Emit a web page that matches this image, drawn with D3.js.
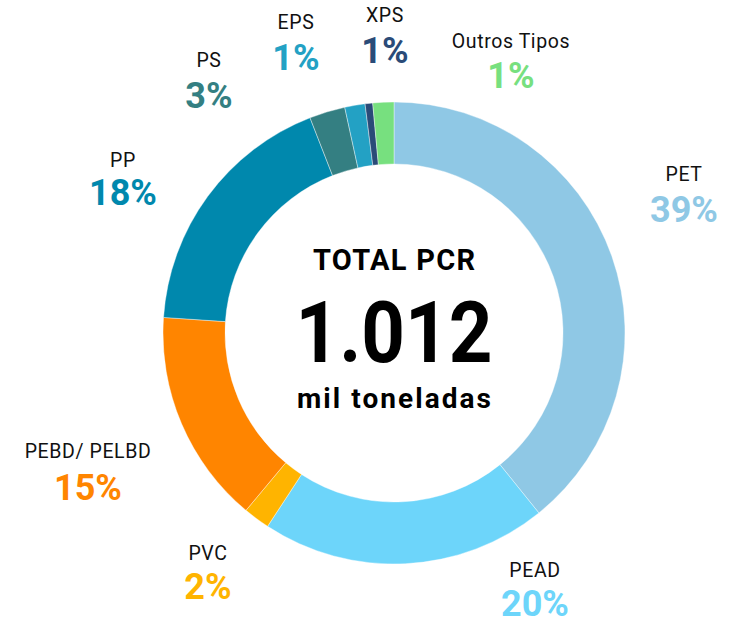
<!DOCTYPE html>
<html>
<head>
<meta charset="utf-8">
<script src="https://cdn.jsdelivr.net/npm/d3@7"></script>
<style>
  body { margin: 0; background: #fff; }
  svg text { font-family: Roboto, "DejaVu Sans", sans-serif; }
  .name { font-size: 19.5px; fill: #111; letter-spacing: 0.6px; }
  .pct { font-size: 36px; font-weight: 700; }
</style>
</head>
<body>
<div id="chart"></div>
<script>
// Data (share of PCR by resin type, %, clockwise from 12 o'clock)
const categories = ['PET', 'PEAD', 'PVC', 'PEBD/ PELBD', 'PP', 'PS', 'EPS', 'XPS', 'Outros Tipos'];
const shares = [39.2, 20.0, 1.85, 15.0, 18.0, 2.5, 1.42, 0.53, 1.47];
const colors = ['#8fc8e5', '#6dd5fa', '#ffb400', '#ff8500', '#0088ad', '#347f82', '#23a1c4', '#2a4b78', '#77e07f'];
const totalLabel = 'TOTAL PCR';
const totalValue = '1.012';
const totalUnit = 'mil toneladas';

// label anchor points (x, name baseline, percent baseline)
const labelPos = {
  'PET': [684, 181, 222],
  'PEAD': [535, 577, 616],
  'PVC': [208, 560, 599],
  'PEBD/ PELBD': [88, 458, 500],
  'PP': [123, 167, 205],
  'PS': [209, 67, 108],
  'EPS': [296, 29, 70],
  'XPS': [385, 22, 63],
  'Outros Tipos': [511, 48, 88]
};

const width = 738, height = 625;
const cx = 394, cy = 333;
const outerR = 231, innerR = 169;

const svg = d3.select('#chart').append('svg')
  .attr('width', width)
  .attr('height', height);

const data = categories.map((c, i) => ({ key: c, value: shares[i], color: colors[i] }));

const pie = d3.pie()
  .sort(null)
  .value(d => d.value);

const arc = d3.arc()
  .innerRadius(innerR)
  .outerRadius(outerR);

const donut = svg.append('g')
  .attr('transform', `translate(${cx},${cy})`);

donut.selectAll('path')
  .data(pie(data))
  .enter().append('path')
  .attr('d', arc)
  .attr('fill', d => d.data.color)
  .attr('stroke', '#fff')
  .attr('stroke-width', 0.4);

// center text
donut.append('text')
  .attr('text-anchor', 'middle')
  .attr('y', -63)
  .style('font-size', '29px')
  .style('font-weight', 700)
  .attr('textLength', 162)
  .attr('lengthAdjust', 'spacing')
  .text(totalLabel);

donut.append('text')
  .attr('text-anchor', 'middle')
  .attr('y', 29)
  .style('font-size', '86px')
  .style('font-weight', 700)
  .attr('textLength', 197)
  .attr('lengthAdjust', 'spacingAndGlyphs')
  .text(totalValue);

donut.append('text')
  .attr('text-anchor', 'middle')
  .attr('y', 75)
  .style('font-size', '28px')
  .style('font-weight', 700)
  .attr('textLength', 194)
  .attr('lengthAdjust', 'spacing')
  .text(totalUnit);

// outside labels
const labels = svg.selectAll('.label')
  .data(data)
  .enter().append('g')
  .attr('class', 'label');

labels.append('text')
  .attr('class', 'name')
  .attr('text-anchor', 'middle')
  .attr('x', d => labelPos[d.key][0])
  .attr('y', d => labelPos[d.key][1])
  .text(d => d.key);

labels.append('text')
  .attr('class', 'pct')
  .attr('text-anchor', 'middle')
  .attr('x', d => labelPos[d.key][0])
  .attr('y', d => labelPos[d.key][2])
  .attr('fill', d => d.color)
  .text(d => Math.round(d.value) + '%');
</script>
</body>
</html>
